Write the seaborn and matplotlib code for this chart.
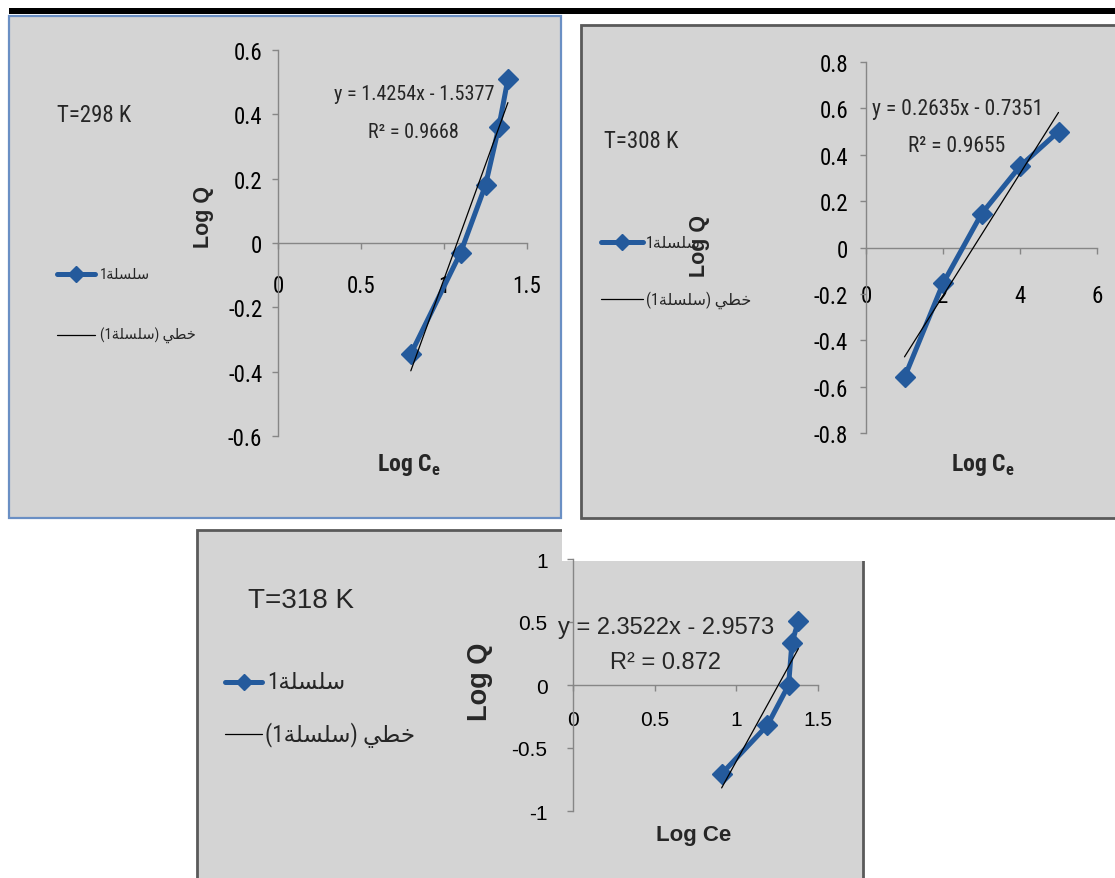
import re
import matplotlib
matplotlib.use("Agg")
import matplotlib.pyplot as plt
import numpy as np
import pandas as pd
import seaborn as sns
from matplotlib import font_manager
from matplotlib.patches import Rectangle
from matplotlib.lines import Line2D

# ---------------------------------------------------------------- data
logce_298 = [0.80, 1.10, 1.25, 1.33, 1.385]
logq_298 = [-0.345, -0.03, 0.18, 0.36, 0.51]
fit_298 = (1.4254, -1.5377, 0.9668)

logce_308 = [1, 2, 3, 4, 5]
logq_308 = [-0.56, -0.155, 0.145, 0.35, 0.50]
fit_308 = (0.2635, -0.7351, 0.9655)

logce_318 = [0.91, 1.19, 1.32, 1.34, 1.38]
logq_318 = [-0.705, -0.32, 0.0, 0.33, 0.51]
fit_318 = (2.3522, -2.9573, 0.872)

temperatures = ["T=298 K", "T=308 K", "T=318 K"]

xticks_298 = [0, 0.5, 1, 1.5]
xlabels_298 = ["0", "0.5", "1", "1.5"]
yticks_298 = [-0.6, -0.4, -0.2, 0, 0.2, 0.4, 0.6]
ylabels_298 = ["-0.6", "-0.4", "-0.2", "0", "0.2", "0.4", "0.6"]

xticks_308 = [0, 2, 4, 6]
xlabels_308 = ["0", "2", "4", "6"]
yticks_308 = [-0.8, -0.6, -0.4, -0.2, 0, 0.2, 0.4, 0.6, 0.8]
ylabels_308 = ["-0.8", "-0.6", "-0.4", "-0.2", "0", "0.2", "0.4", "0.6", "0.8"]

xticks_318 = [0, 0.5, 1, 1.5]
xlabels_318 = ["0", "0.5", "1", "1.5"]
yticks_318 = [-1, -0.5, 0, 0.5, 1]
ylabels_318 = ["-1", "-0.5", "0", "0.5", "1"]

series_name = "سلسلة1"
trend_name = "خطي (سلسلة1)"

# ---------------------------------------------------------------- fonts
sns.set_theme(style="white")

_fonts = font_manager.fontManager.ttflist
_names = {f.name for f in _fonts}
COND = None
COND_STRETCH = "normal"
for name in ["Liberation Sans Narrow", "Roboto Condensed", "Noto Sans Condensed",
             "DejaVu Sans Condensed", "Open Sans Condensed"]:
    if name in _names:
        COND = name
        break
if COND is None:
    for f in _fonts:
        if (f.name in ("DejaVu Sans", "Noto Sans", "Roboto", "Open Sans")
                and str(f.stretch) in ("condensed", "semi-condensed", "75", "87")):
            COND = f.name
            COND_STRETCH = "condensed"
            break
SCALE = 1.0
if COND is None:
    COND = "Liberation Sans"
    SCALE = 0.86

NARROW = [COND, "Liberation Sans", "DejaVu Sans"]
WIDE = ["Liberation Sans", "DejaVu Sans"]
LEGEND_FONT = [COND, "DejaVu Sans"]
plt.rcParams["font.family"] = NARROW
plt.rcParams["mathtext.fontset"] = "custom"
plt.rcParams["mathtext.rm"] = COND
plt.rcParams["mathtext.bf"] = COND + ":bold"

# ---------------------------------------------------------------- styling
BLUE = "#245a9c"
PANEL_FILL = "#d4d4d4"
AXIS_GREY = "#868686"

W, H = 1115, 879
fig = plt.figure(figsize=(W / 100, H / 100), dpi=100)
fig.patch.set_facecolor("white")


def fx(x):
    return x / W


def fy(y):
    return 1 - y / H


def rect_px(l, t, r, b):
    return [l / W, 1 - b / H, (r - l) / W, (b - t) / H]


# ---- Arabic shaping (presentation forms + right-to-left visual order)
FORMS = {
    "س": ("\uFEB1", "\uFEB2", "\uFEB3", "\uFEB4"),
    "ل": ("\uFEDD", "\uFEDE", "\uFEDF", "\uFEE0"),
    "ة": ("\uFE93", "\uFE94", None, None),
    "خ": ("\uFEA5", "\uFEA6", "\uFEA7", "\uFEA8"),
    "ط": ("\uFEC1", "\uFEC2", "\uFEC3", "\uFEC4"),
    "ي": ("\uFEF1", "\uFEF2", "\uFEF3", "\uFEF4"),
}


def _dual(c):
    return c in FORMS and FORMS[c][2] is not None


def rtl(text):
    out = []
    for i, c in enumerate(text):
        if c not in FORMS:
            out.append(c)
            continue
        prev = text[i - 1] if i > 0 else ""
        nxt = text[i + 1] if i + 1 < len(text) else ""
        jp = _dual(prev)
        jn = _dual(c) and nxt in FORMS
        iso, fin, ini, med = FORMS[c]
        out.append(med if (jp and jn) else fin if jp else ini if jn else iso)
    mirror = {"(": ")", ")": "("}
    runs = re.findall(r"\d+|\D", "".join(out))
    return "".join(mirror.get(r, r) for r in reversed(runs))


def ntext(x, y, s, size, **kw):
    """Text in the condensed face used by the two upper charts."""
    return fig.text(fx(x), fy(y), s, family=NARROW, fontstretch=COND_STRETCH,
                    fontsize=size * SCALE, **kw)


# ---------------------------------------------------------------- backgrounds
def box(l, t, r, b, face, edge=None, lw=0, z=-10):
    fig.add_artist(Rectangle((fx(l), fy(b)), (r - l) / W, (b - t) / H,
                             transform=fig.transFigure, facecolor=face,
                             edgecolor=edge if edge else "none",
                             linewidth=lw, zorder=z))


box(8.5, 9, W + 5, 15, "black", z=-4)
box(9, 17, 561, 519, PANEL_FILL, "#6a8fc4", 1.6)
box(581, 26, W + 10, 519, PANEL_FILL, "#5a5a5a", 2.0)
box(197, 531, 863, H + 10, PANEL_FILL, "#5a5a5a", 2.0)
box(561.5, 526, 870, 561.5, "white", z=-5)


# ---------------------------------------------------------------- panels
def panel(rect, xs, ys, fit, xlim, ylim, xt, xtl, yt, ytl, fam, stretch,
          tsize, xpad, ypad):
    ax = fig.add_axes(rect_px(*rect))
    ax.set_facecolor("none")
    df = pd.DataFrame({"LogCe": xs, "LogQ": ys})
    sns.lineplot(data=df, x="LogCe", y="LogQ", ax=ax, sort=False,
                 estimator=None, color=BLUE, linewidth=3.6, marker="D",
                 markersize=10.5, markeredgecolor=BLUE, markeredgewidth=1,
                 clip_on=False, zorder=3)
    slope, icpt, _ = fit
    xfit = np.array([min(xs), max(xs)])
    tdf = pd.DataFrame({"LogCe": xfit, "LogQ": slope * xfit + icpt})
    sns.lineplot(data=tdf, x="LogCe", y="LogQ", ax=ax, sort=False,
                 estimator=None, color="black", linewidth=0.9,
                 clip_on=False, zorder=4)
    ax.set_xlim(*xlim)
    ax.set_ylim(*ylim)
    for s in ("top", "right"):
        ax.spines[s].set_visible(False)
    ax.spines["bottom"].set_position(("data", 0))
    for s in ("left", "bottom"):
        ax.spines[s].set_color(AXIS_GREY)
        ax.spines[s].set_linewidth(1.0)
        ax.spines[s].set_zorder(1)
    ax.set_xticks(xt)
    ax.set_xticklabels(xtl, fontfamily=fam, fontstretch=stretch, fontsize=tsize)
    ax.set_yticks(yt)
    ax.set_yticklabels(ytl, fontfamily=fam, fontstretch=stretch, fontsize=tsize)
    ax.tick_params(axis="both", direction="out", length=4.3, width=1,
                   color=AXIS_GREY, labelcolor="black")
    ax.tick_params(axis="x", pad=xpad, bottom=True)
    ax.tick_params(axis="y", pad=ypad, left=True)
    ax.set_xlabel("")
    ax.set_ylabel("")
    return ax


def equation(fit):
    slope, icpt, r2 = fit
    sign = "-" if icpt < 0 else "+"
    return f"y = {slope:.4f}x {sign} {abs(icpt):.4f}", f"R\u00b2 = {r2:g}"


def legend(x0, x1, y1, y2, xt1, xt2, size):
    fig.add_artist(Line2D([fx(x0), fx((x0 + x1) / 2), fx(x1)], [fy(y1)] * 3,
                          transform=fig.transFigure, color=BLUE, lw=3.6,
                          marker="D", markevery=[1], markersize=8,
                          markeredgecolor=BLUE))
    fig.add_artist(Line2D([fx(x0), fx(x1)], [fy(y2)] * 2,
                          transform=fig.transFigure, color="black", lw=0.9))
    fig.text(fx(xt1), fy(y1), rtl(series_name), family=LEGEND_FONT,
             fontsize=size, ha="left", va="center")
    fig.text(fx(xt2), fy(y2), rtl(trend_name), family=LEGEND_FONT,
             fontsize=size, ha="left", va="center")


# T = 298 K
panel((278, 51, 527, 437), logce_298, logq_298, fit_298, (0, 1.5),
      (-0.6, 0.6), xticks_298, xlabels_298, yticks_298, ylabels_298,
      NARROW, COND_STRETCH, 16.5 * SCALE, 18, 7)
eq, r2 = equation(fit_298)
ntext(414, 95, eq, 14.5, ha="center", va="center")
ntext(413, 132, r2, 14.5, ha="center", va="center")
ntext(57, 116, temperatures[0], 16.5, ha="left", va="center")
fig.text(fx(204), fy(217), "Log Q", family=WIDE, fontsize=15.5,
         fontweight="bold", rotation=90, ha="center", va="center")
ntext(409, 465, r"Log C$_\mathbf{e}$", 17, fontweight="bold",
      ha="center", va="center")
legend(57, 95, 275, 336, 100, 100, 10.5)

# T = 308 K
panel((866, 63, 1097, 434), logce_308, logq_308, fit_308, (0, 6),
      (-0.8, 0.8), xticks_308, xlabels_308, yticks_308, ylabels_308,
      NARROW, COND_STRETCH, 16.5 * SCALE, 22, 8.6)
eq, r2 = equation(fit_308)
ntext(958, 110, eq, 15.5, ha="center", va="center")
ntext(957, 146, r2, 15.5, ha="center", va="center")
ntext(604, 142, temperatures[1], 16.5, ha="left", va="center")
legend(601, 643, 243, 300, 646, 646, 11.5)
fig.text(fx(699), fy(246), "Log Q", family=WIDE, fontsize=15.5,
         fontweight="bold", rotation=90, ha="center", va="center")
ntext(983, 465, r"Log C$_\mathbf{e}$", 17, fontweight="bold",
      ha="center", va="center")

# T = 318 K
panel((573, 560, 818, 812), logce_318, logq_318, fit_318, (0, 1.5),
      (-1, 1), xticks_318, xlabels_318, yticks_318, ylabels_318,
      WIDE, "normal", 15, 14, 14)
eq, r2 = equation(fit_318)
fig.text(fx(666), fy(628), eq, family=WIDE, fontsize=17, ha="center", va="center")
fig.text(fx(666), fy(663), r2, family=WIDE, fontsize=17, ha="center", va="center")
fig.text(fx(248), fy(601), temperatures[2], family=WIDE, fontsize=20,
         ha="left", va="center")
fig.text(fx(480), fy(682), "Log Q", family=WIDE, fontsize=19.5,
         fontweight="bold", rotation=90, ha="center", va="center")
fig.text(fx(694), fy(836), "Log Ce", family=WIDE, fontsize=16,
         fontweight="bold", ha="center", va="center")
legend(225, 262, 683, 735, 267, 265, 16.5)

fig.savefig("out.png", dpi=100, facecolor="white")
